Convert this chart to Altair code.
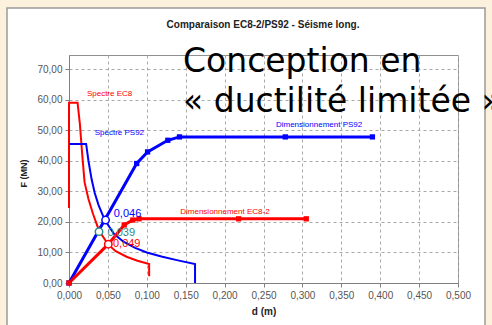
import altair as alt
import pandas as pd

# ---- data ----
ec8_spec_d = [0.0, 0.0, 0.011, 0.014, 0.017, 0.020, 0.025, 0.031, 0.0386, 0.050, 0.060, 0.074, 0.088, 0.103, 0.103]
ec8_spec_F = [24.5, 59.0, 59.0, 52.0, 42.0, 33.0, 27.5, 22.5, 17.2, 12.7, 10.4, 8.6, 7.3, 6.2, 2.2]

ps92_spec_d = [0.0, 0.022, 0.025, 0.029, 0.033, 0.038, 0.046, 0.058, 0.070, 0.085, 0.100, 0.120, 0.140, 0.162, 0.162]
ps92_spec_F = [45.5, 45.5, 40.0, 34.0, 29.5, 25.5, 20.6, 16.0, 13.5, 11.5, 10.0, 8.6, 7.4, 6.2, 0.0]

ps92_dim_d = [0.0, 0.087, 0.101, 0.127, 0.142, 0.278, 0.390]
ps92_dim_F = [0.0, 39.1, 42.9, 46.7, 47.8, 47.8, 47.8]

ec8_dim_d = [0.0, 0.0505, 0.071, 0.082, 0.090, 0.218, 0.305]
ec8_dim_F = [0.0, 12.7, 19.0, 20.6, 21.0, 21.0, 21.0]
ec8_dim_marker = [True, False, True, True, True, True, True]

pt_d = [0.047, 0.0386, 0.0505]
pt_F = [20.6, 16.8, 12.7]
pt_label = ["0,046", "0,039", "0,049"]
pt_color = ["#0000ff", "#2e8b8b", "#ff0000"]
pt_label_d = [0.0575, 0.0495, 0.0565]
pt_label_F = [22.5, 16.3, 12.8]

series_labels = ["Spectre EC8", "Spectre PS92", "Dimensionnement PS92", "Dimensionnement EC8-2"]
series_label_d = [0.023, 0.033, 0.266, 0.143]
series_label_F = [62.0, 49.0, 51.6, 23.2]
series_label_color = ["#ff0000", "#0000ff", "#0000ff", "#ff0000"]

x_ticks = [round(i * 0.05, 3) for i in range(11)]
y_ticks = [i * 10 for i in range(8)]

W, H = 389, 228
XD = [0, 0.5]
YD = [0, 74.6]


def line_df(d, F):
    return pd.DataFrame({"d": d, "F": F, "o": list(range(len(d)))})


xs = alt.Scale(domain=XD, nice=False, zero=False)
ys = alt.Scale(domain=YD, nice=False, zero=False)

X = alt.X(
    "d:Q",
    scale=xs,
    axis=alt.Axis(
        values=x_ticks, title="d (m)", grid=True, labelFlush=False, labelOverlap=False,
        gridDash=[3, 3], gridColor="#a8a8a8", gridWidth=1,
        domainColor="#808080", tickColor="#808080", tickSize=4,
        labelFont="Liberation Sans", labelFontSize=10, labelColor="#555555",
        labelPadding=3, labelExpr="replace(format(datum.value, '.3f'), '.', ',')",
        titleFont="Liberation Sans", titleFontSize=10, titleFontWeight="bold",
        titleColor="#222222", titlePadding=6,
    ),
)
Y = alt.Y(
    "F:Q",
    scale=ys,
    axis=alt.Axis(
        values=y_ticks, title="F (MN)", grid=True, labelFlush=False, labelOverlap=False,
        gridDash=[3, 3], gridColor="#a8a8a8", gridWidth=1,
        domainColor="#808080", tickColor="#808080", tickSize=4,
        labelFont="Liberation Sans", labelFontSize=10, labelColor="#555555",
        labelPadding=3, labelExpr="replace(format(datum.value, '.2f'), '.', ',')",
        titleFont="Liberation Sans", titleFontSize=9, titleFontWeight="bold",
        titleColor="#222222", titleX=-46, titleY=118, titleBaseline="middle",
        titleAlign="center", titleAngle=270,
    ),
)

BEIGE = "#fbf1dc"
one = pd.DataFrame({"a": [0]})

# slide frame strips (outside the white chart card)
strip_left = alt.Chart(one).mark_rect(fill=BEIGE).encode(
    x=alt.value(-69), x2=alt.value(7 - 69), y=alt.value(-55), y2=alt.value(325 - 55))
strip_top = alt.Chart(one).mark_rect(fill=BEIGE).encode(
    x=alt.value(-69), x2=alt.value(492 - 69), y=alt.value(-55), y2=alt.value(8 - 55))
strip_right = alt.Chart(one).mark_rect(fill=BEIGE).encode(
    x=alt.value(485 - 69), x2=alt.value(492 - 69), y=alt.value(-55), y2=alt.value(325 - 55))
card_border = alt.Chart(one).mark_rect(
    fillOpacity=0, stroke="#9a9a9a", strokeWidth=1.5
).encode(x=alt.value(7 - 69), x2=alt.value(485 - 69), y=alt.value(8 - 55), y2=alt.value(340 - 55))

ec8_spec = alt.Chart(line_df(ec8_spec_d, ec8_spec_F)).mark_line(
    color="#ff0000", strokeWidth=2
).encode(x=X, y=Y, order="o:Q")

ps92_spec = alt.Chart(line_df(ps92_spec_d, ps92_spec_F)).mark_line(
    color="#0000ff", strokeWidth=2
).encode(x=X, y=Y, order="o:Q")

ps92_dim_df = line_df(ps92_dim_d, ps92_dim_F)
ps92_dim = alt.Chart(ps92_dim_df).mark_line(color="#0000ff", strokeWidth=3).encode(
    x=X, y=Y, order="o:Q")
ps92_dim_pts = alt.Chart(ps92_dim_df).mark_square(color="#0000ff", size=28, opacity=1).encode(
    x=X, y=Y)

ec8_dim_df = line_df(ec8_dim_d, ec8_dim_F)
ec8_dim_df["m"] = ec8_dim_marker
ec8_dim = alt.Chart(ec8_dim_df).mark_line(color="#ff0000", strokeWidth=3).encode(
    x=X, y=Y, order="o:Q")
ec8_dim_pts = alt.Chart(ec8_dim_df).transform_filter("datum.m").mark_square(
    color="#ff0000", size=28, opacity=1).encode(x=X, y=Y)

pts_df = pd.DataFrame({"d": pt_d, "F": pt_F, "c": pt_color})
circles = alt.Chart(pts_df).mark_point(
    shape="circle", filled=False, fill="white", fillOpacity=1, size=55, strokeWidth=1.5, opacity=1
).encode(x=X, y=Y, stroke=alt.Stroke("c:N", scale=None))

ptlab_df = pd.DataFrame({"d": pt_label_d, "F": pt_label_F, "t": pt_label, "c": pt_color})
pt_text = alt.Chart(ptlab_df).mark_text(
    font="Liberation Sans", fontSize=11, align="left", baseline="middle"
).encode(x=X, y=Y, text="t:N", color=alt.Color("c:N", scale=None))

lab_df = pd.DataFrame({"d": series_label_d, "F": series_label_F,
                       "t": series_labels, "c": series_label_color})
lab_text = alt.Chart(lab_df).mark_text(
    font="Liberation Sans", fontSize=8, align="left", baseline="middle"
).encode(x=X, y=Y, text="t:N", color=alt.Color("c:N", scale=None))

title = alt.Chart(pd.DataFrame({"t": ["Comparaison EC8-2/PS92 - Séisme long."]})).mark_text(
    font="Liberation Sans", fontSize=10, fontWeight="bold", color="#222222",
    align="center", baseline="middle"
).encode(x=alt.value(263 - 69), y=alt.value(25 - 55), text="t:N")

overlay = alt.Chart(pd.DataFrame({"t": ["Conception en", "« ductilité limitée »"],
                                  "yy": [72 - 55, 112 - 55]})).mark_text(
    font="DejaVu Sans", fontSize=33, color="#000000", align="left", baseline="alphabetic"
).encode(x=alt.value(183 - 69), y=alt.Y("yy:Q", scale=None), text="t:N")

chart = alt.layer(
    strip_left, strip_top, strip_right, card_border,
    ec8_spec, ps92_spec, ps92_dim, ec8_dim, ps92_dim_pts, ec8_dim_pts,
    circles, pt_text, lab_text, title, overlay
).properties(
    width=W, height=H,
    autosize=alt.AutoSizeParams(type="none"),
    padding={"left": 69, "top": 55, "right": 492 - 69 - W, "bottom": 325 - 55 - H},
    background="white",
).configure_view(stroke="#909090", strokeWidth=1)

chart.save("out.html", embed_options={"renderer": "svg", "actions": False})
